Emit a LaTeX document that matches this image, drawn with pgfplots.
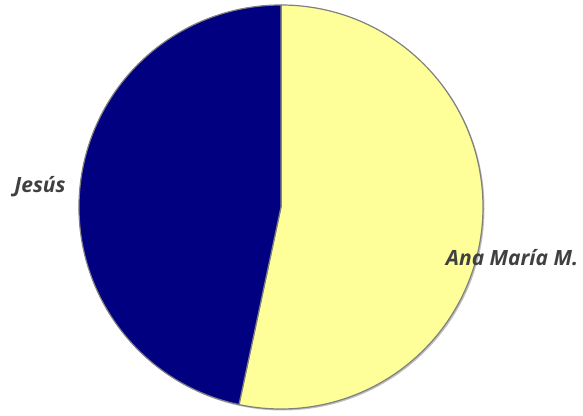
\documentclass[border=0pt]{standalone}
\usepackage{fontspec}
\setmainfont{Open Sans}
\usepackage{pgfplots}
\usepackage{pgfplotstable}
\pgfplotsset{compat=1.18}
\definecolor{navyslice}{HTML}{000080}
\definecolor{yellowslice}{HTML}{FFFF99}
\definecolor{outline}{HTML}{808080}
\definecolor{labelgray}{HTML}{404040}
\pgfplotstableread[col sep=comma]{
name,value
Ana María M.,8
Jesús,7
}\piedata
\begin{document}
\begin{tikzpicture}
\pgfplotstablegetelem{0}{value}\of\piedata \let\va\pgfplotsretval
\pgfplotstablegetelem{1}{value}\of\piedata \let\vb\pgfplotsretval
\pgfmathsetmacro{\total}{\va+\vb}
\pgfmathsetmacro{\angA}{90-360*\va/\total}
\begin{axis}[
  scale only axis, width=583pt, height=412pt,
  xmin=0, xmax=583, ymin=0, ymax=412,
  hide axis, clip=false,
]
\path (axis cs:0,0) rectangle (axis cs:583,412);
% shadow
\fill[black!25] (axis cs:282.5,203.5) circle[radius=202pt];
\filldraw[fill=yellowslice, draw=outline, line width=1.2pt, line join=round]
  (axis cs:281,205) -- ++(90:202pt) arc[start angle=90, end angle=\angA, radius=202pt] -- cycle;
\filldraw[fill=navyslice, draw=outline, line width=1.2pt, line join=round]
  (axis cs:281,205) -- ++(\angA:202pt) arc[start angle=\angA, end angle=-270, radius=202pt] -- cycle;
\node[font=\fontsize{21}{25}\selectfont\bfseries\itshape, text=labelgray] at (axis cs:40,225) {Jesús};
\node[font=\fontsize{21}{25}\selectfont\bfseries\itshape, text=labelgray] at (axis cs:512,154) {Ana María M.};
\end{axis}
\end{tikzpicture}
\end{document}
